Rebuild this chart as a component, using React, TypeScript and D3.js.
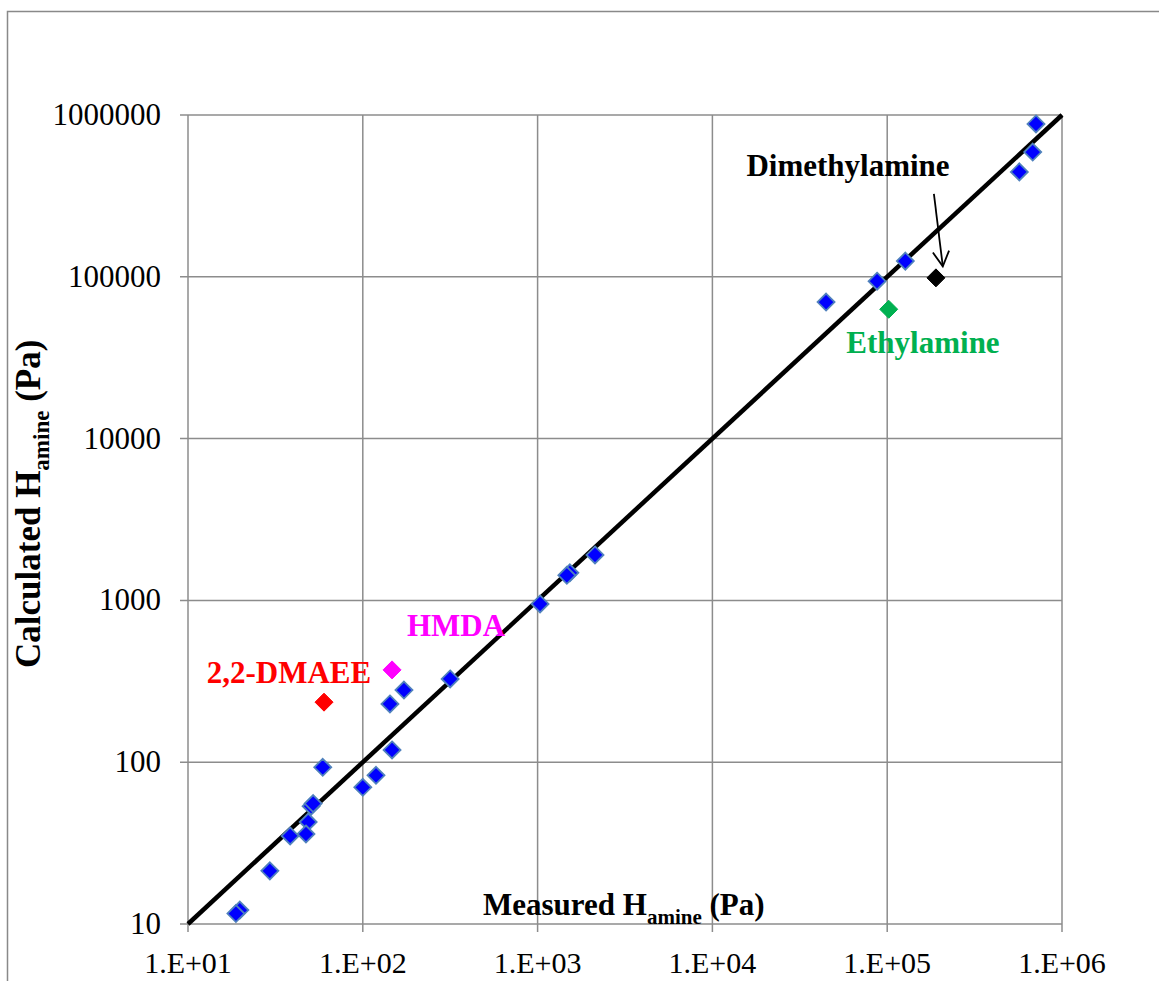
import React from "react";
import * as d3 from "d3";

// Measured vs calculated H_amine (Pa)
const measuredBlue = [
  7.1e5, 6.8e5, 5.7e5, 1.27e5, 8.75e4, 4.47e4, 2130, 1530, 1470, 1033, 316, 172, 143, 147, 119, 100, 59,
  50.6, 52, 48.7, 47.3, 38.4, 29.4, 19.8, 18.8,
];
const calculatedBlue = [
  8.8e5, 5.9e5, 4.45e5, 1.25e5, 9.4e4, 6.98e4, 1910, 1480, 1430, 951, 327, 279, 229, 119, 83, 70, 93,
  53.5, 55.5, 42.7, 36, 35, 21.3, 12.2, 11.6,
];

const specialNames = ["Dimethylamine", "Ethylamine", "HMDA", "2,2-DMAEE"];
const specialMeasured = [1.9e5, 1.02e5, 147, 60];
const specialCalculated = [9.85e4, 6.3e4, 372, 235];
const specialColors = ["#000000", "#00B050", "#FF00FF", "#FF0000"];

const xTicks = [1e1, 1e2, 1e3, 1e4, 1e5, 1e6];
const xTickLabels = ["1.E+01", "1.E+02", "1.E+03", "1.E+04", "1.E+05", "1.E+06"];
const yTicks = [10, 100, 1000, 10000, 100000, 1000000];
const yTickLabels = ["10", "100", "1000", "10000", "100000", "1000000"];
const parityLine = [10, 1e6];

const W = 1159;
const H = 981;
const L = 188, R = 1062, T = 115, B = 924;
const FONT = "'Liberation Serif', 'Times New Roman', serif";
const GRID = "#8c8c8c";

export default function App() {
  const x = d3.scaleLog().domain([10, 1e6]).range([L, R]);
  const y = d3.scaleLog().domain([10, 1e6]).range([B, T]);
  const diamond = (cx: number, cy: number, r: number) =>
    `M${cx},${cy - r}L${cx + r},${cy}L${cx},${cy + r}L${cx - r},${cy}Z`;
  const line = d3
    .line<number>()
    .x((d) => x(d))
    .y((d) => y(d));

  // label positions (pixels: x, baseline)
  const labelPos: [number, number, string][] = [
    [848, 176, "middle"],
    [923, 353, "middle"],
    [456, 636, "middle"],
    [289, 683, "middle"],
  ];

  // arrow for Dimethylamine (data coords)
  const arrowFrom: [number, number] = [1.85e5, 3.25e5];
  const arrowTo: [number, number] = [2.08e5, 1.16e5];
  const ax0 = x(arrowFrom[0]), ay0 = y(arrowFrom[1]);
  const ax1 = x(arrowTo[0]), ay1 = y(arrowTo[1]);
  const ang = Math.atan2(ay1 - ay0, ax1 - ax0);
  const hl = 17, ha = 0.5;
  const h1 = [ax1 - hl * Math.cos(ang - ha), ay1 - hl * Math.sin(ang - ha)];
  const h2 = [ax1 - hl * Math.cos(ang + ha), ay1 - hl * Math.sin(ang + ha)];

  return (
    <svg
      width={W}
      height={H}
      style={{ position: "absolute", left: 0, top: 0, background: "#fff" }}
      fontFamily={FONT}
    >
      <rect x={0} y={0} width={W} height={H} fill="#fff" />
      {/* outer frame */}
      <path d={`M7.5,${H}V11.5H${W}`} fill="none" stroke="#898989" strokeWidth={1.5} />

      {/* grid */}
      {xTicks.map((t, i) => (
        <line key={"gx" + i} x1={x(t)} x2={x(t)} y1={T} y2={B + 8} stroke={GRID} strokeWidth={1.5} />
      ))}
      {yTicks.map((t, i) => (
        <line key={"gy" + i} x1={L - 8} x2={R} y1={y(t)} y2={y(t)} stroke={GRID} strokeWidth={1.5} />
      ))}

      {/* tick labels */}
      {xTicks.map((t, i) => (
        <text key={"tx" + i} x={x(t)} y={973} fontSize={30} textAnchor="middle" fill="#000">
          {xTickLabels[i]}
        </text>
      ))}
      {yTicks.map((t, i) => (
        <text key={"ty" + i} x={161} y={y(t) + 10} fontSize={31} textAnchor="end" fill="#000">
          {yTickLabels[i]}
        </text>
      ))}

      {/* parity line */}
      <path d={line(parityLine) || ""} stroke="#000" strokeWidth={4.5} fill="none" />

      {/* blue points */}
      {measuredBlue.map((m, i) => (
        <path
          key={"b" + i}
          d={diamond(x(m), y(calculatedBlue[i]), 8.5)}
          fill="#0000FF"
          stroke="#4F81BD"
          strokeWidth={1.8}
        />
      ))}

      {/* special points */}
      {specialMeasured.map((m, i) => (
        <path
          key={"s" + i}
          d={diamond(x(m), y(specialCalculated[i]), 9)}
          fill={specialColors[i]}
          stroke={specialColors[i]}
          strokeWidth={1}
        />
      ))}

      {/* labels */}
      {specialNames.map((n, i) => (
        <text
          key={"l" + i}
          x={labelPos[i][0]}
          y={labelPos[i][1]}
          fontSize={31}
          fontWeight="bold"
          textAnchor={labelPos[i][2] as any}
          fill={specialColors[i]}
        >
          {n}
        </text>
      ))}

      {/* arrow */}
      <line x1={ax0} y1={ay0} x2={ax1} y2={ay1} stroke="#000" strokeWidth={1.8} />
      <path d={`M${h1[0]},${h1[1]}L${ax1},${ay1}L${h2[0]},${h2[1]}`} fill="none" stroke="#000" strokeWidth={1.8} />

      {/* axis titles */}
      <text x={483} y={915} fontSize={31} fontWeight="bold" fill="#000">
        Measured H
        <tspan fontSize={21} dy={9}>amine</tspan>
        <tspan dy={-9}> (Pa)</tspan>
      </text>
      <text
        x={40}
        y={668}
        transform="rotate(-90,40,668)"
        fontSize={35}
        fontWeight="bold"
        fill="#000"
      >
        Calculated H
        <tspan fontSize={23} dy={9}>amine</tspan>
        <tspan dy={-9}> (Pa)</tspan>
      </text>
    </svg>
  );
}
